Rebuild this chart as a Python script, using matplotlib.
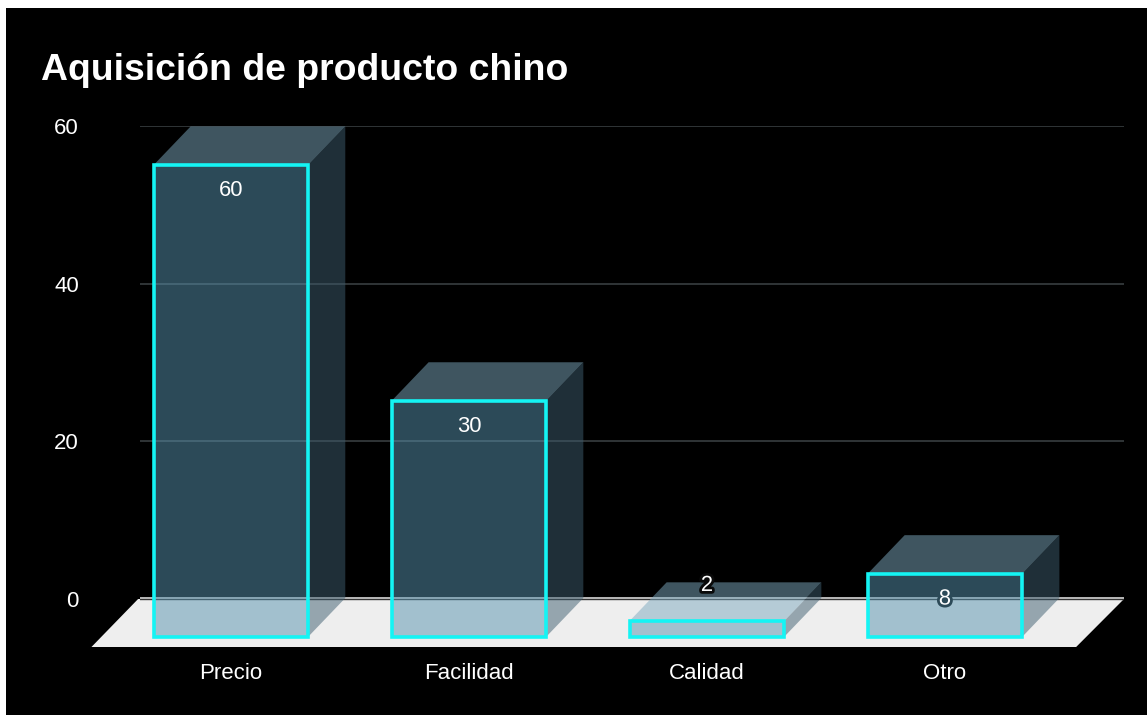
import matplotlib
matplotlib.use('Agg')
import matplotlib.pyplot as plt
import matplotlib.patheffects as pe
from matplotlib.patches import Polygon, Rectangle

plt.rcParams['font.family'] = ['Liberation Sans', 'DejaVu Sans']

categories = ['Precio', 'Facilidad', 'Calidad', 'Otro']
values = [60, 30, 2, 8]
y_ticks = [0, 20, 40, 60]

W, H = 1147, 715

fig = plt.figure(figsize=(W / 100, H / 100), dpi=100, facecolor='white')

# black panel with the thin white edge at left and top
fig.add_artist(Rectangle((6 / W, 0), (W - 6) / W, (H - 8) / H, transform=fig.transFigure,
                         facecolor='black', edgecolor='none', zorder=-1))

# axes box is the back wall, from x=140 to 1124 and y=126 to 647 px
ax = fig.add_axes([140 / W, (H - 647) / H, 984 / W, 521 / H])
ax.patch.set_alpha(0)
ax.set_xlim(-0.382, 3.752)
ax.set_ylim(-6.09, 60)

# 3d look: depth offsets in data units
dx = 0.1555
dy = 4.9
base = -4.78
half = 0.325

# floor
floor = Polygon([(-0.586, -6.09), (3.551, -6.09), (3.752, 0), (-0.39, 0)],
                closed=True, facecolor='#eeeeee', edgecolor='none', clip_on=False, zorder=1)
ax.add_patch(floor)

ax.set_yticks(y_ticks)
ax.set_xticks(range(len(categories)))
ax.set_xticklabels(categories)
ax.tick_params(axis='both', length=0, colors='white', labelsize=16)
ax.tick_params(axis='y', pad=44)
ax.tick_params(axis='x', pad=11.5)
for s in ax.spines.values():
    s.set_visible(False)

for t in [20, 40, 60]:
    ax.axhline(t, color='#34393b', lw=1.3, zorder=2)
ax.axhline(0, color='#333333', lw=1, zorder=2)
ax.axhline(0.17, color='#d8d8d8', lw=1.2, zorder=2)

halos = {'2': '#0a0a0a', '8': '#2c4a58'}

for i, v in enumerate(values):
    top = base + v * 0.997
    x0, x1 = i - half, i + half
    ax.add_patch(Polygon([(x0, top), (x1, top), (x1 + dx, top + dy), (x0 + dx, top + dy)],
                         facecolor='#7eaac0', alpha=0.5, edgecolor='none', clip_on=False, zorder=3))
    ax.add_patch(Polygon([(x1, base), (x1 + dx, base + dy), (x1 + dx, top + dy), (x1, top)],
                         facecolor='#3e5e70', alpha=0.5, edgecolor='none', clip_on=False, zorder=3))
    ax.add_patch(Rectangle((x0, base), x1 - x0, top - base, facecolor=(0.345, 0.58, 0.69, 0.5),
                           edgecolor='#14f4f4', lw=2.6, clip_on=False, zorder=4))
    # small bars carry the label above the box
    if v == 2:
        ly = top + 4.5
    else:
        ly = top - 3.2
    txt = ax.text(i, ly, str(v), color='white', fontsize=15.8, ha='center', va='center', zorder=5)
    if str(v) in halos:
        txt.set_path_effects([pe.withStroke(linewidth=4, foreground=halos[str(v)])])

fig.text(41 / W, (H - 70) / H, 'Aquisición de producto chino', color='white',
         fontsize=26.95, fontweight='bold', ha='left', va='center')

fig.savefig('out.png', dpi=100, facecolor=fig.get_facecolor())
